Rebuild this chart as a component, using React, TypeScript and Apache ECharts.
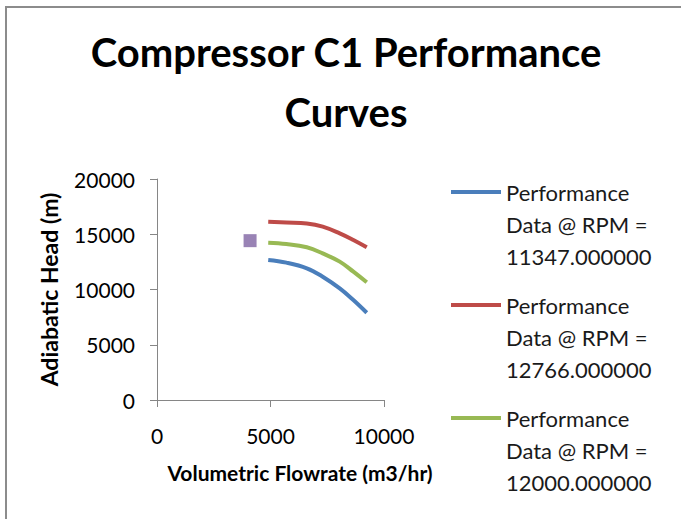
import React, { useEffect, useRef } from "react";
import * as echarts from "echarts";

const flowrate = [4900, 5700, 6600, 7300, 8050, 8650, 9240];
const headRpm11347 = [12670, 12430, 11920, 11160, 10100, 9050, 7900];
const headRpm12766 = [16140, 16070, 15980, 15690, 15080, 14480, 13820];
const headRpm12000 = [14240, 14120, 13820, 13270, 12520, 11610, 10650];
const operatingPoint = [[4100, 14420]];
const seriesNames = [
  "Performance\nData @ RPM =\n11347.000000",
  "Performance\nData @ RPM =\n12766.000000",
  "Performance\nData @ RPM =\n12000.000000",
];
const seriesColors = ["#4A7EBB", "#BE4B48", "#98B954"];

const FONT = "Lato, 'Open Sans', sans-serif";

export default function App() {
  const ref = useRef<HTMLDivElement>(null);
  useEffect(() => {
    if (!ref.current) return;
    const chart = echarts.init(ref.current, null, { renderer: "svg" });
    const curves = [headRpm11347, headRpm12766, headRpm12000];
    chart.setOption({
      animation: false,
      backgroundColor: "#fff",
      textStyle: { fontFamily: FONT },
      title: {
        text: "Compressor C1 Performance\nCurves",
        left: 341,
        top: 17,
        textAlign: "center",
        textStyle: {
          fontFamily: FONT,
          fontWeight: "bold",
          fontSize: 40,
          lineHeight: 60,
          color: "#000",
        },
      },
      graphic: [
        {
          type: "polyline",
          shape: { points: [[6, 530], [6, 7], [690, 7]] },
          style: { stroke: "#8c8c8c", lineWidth: 2, fill: "none" },
          silent: true,
        },
      ],
      grid: { left: 157, top: 179, width: 227, height: 221, containLabel: false },
      legend: {
        orient: "vertical",
        left: 446,
        top: 107,
        itemWidth: 50,
        itemHeight: 4,
        itemGap: -47,
        icon: "rect",
        data: seriesNames,
        formatter: (name: string) => "\n\n" + name,
        textStyle: {
          fontFamily: FONT,
          fontSize: 22,
          lineHeight: 32,
          color: "#1a1a1a",
        },
      },
      xAxis: {
        type: "value",
        min: 0,
        max: 10000,
        interval: 5000,
        name: "Volumetric Flowrate (m3/hr)",
        nameLocation: "middle",
        nameGap: 62,
        nameTextStyle: {
          fontFamily: FONT,
          fontWeight: "bold",
          fontSize: 21,
          color: "#000",
          padding: [0, 0, 0, 59],
        },
        axisLine: { lineStyle: { color: "#868686", width: 1 } },
        axisTick: { show: true, length: 7, lineStyle: { color: "#868686" } },
        axisLabel: {
          fontFamily: FONT,
          fontSize: 21,
          color: "#000",
          margin: 25,
          formatter: (v: number) => String(v),
        },
        splitLine: { show: false },
      },
      yAxis: {
        type: "value",
        min: 0,
        max: 20000,
        interval: 5000,
        name: "Adiabatic Head (m)",
        nameLocation: "middle",
        nameGap: 97,
        nameTextStyle: { fontFamily: FONT, fontWeight: "bold", fontSize: 23, color: "#000" },
        axisLine: { show: true, lineStyle: { color: "#868686", width: 1 } },
        axisTick: { show: true, length: 7, lineStyle: { color: "#868686" } },
        axisLabel: {
          fontFamily: FONT,
          fontSize: 21,
          color: "#000",
          margin: 22,
          formatter: (v: number) => String(v),
        },
        splitLine: { show: false },
      },
      series: [
        ...curves.map((vals, i) => ({
          name: seriesNames[i],
          type: "line",
          data: flowrate.map((x, j) => [x, vals[j]]),
          smooth: 0.4,
          symbol: "none",
          lineStyle: { color: seriesColors[i], width: 4 },
          itemStyle: { color: seriesColors[i] },
        })),
        {
          name: "Operating Point",
          type: "scatter",
          data: operatingPoint,
          symbol: "rect",
          symbolSize: 13,
          itemStyle: { color: "#8064A2" },
        },
      ],
    });
    return () => chart.dispose();
  }, []);
  return (
    <div
      ref={ref}
      style={{ position: "absolute", left: 0, top: 0, width: 681, height: 519 }}
    />
  );
}
